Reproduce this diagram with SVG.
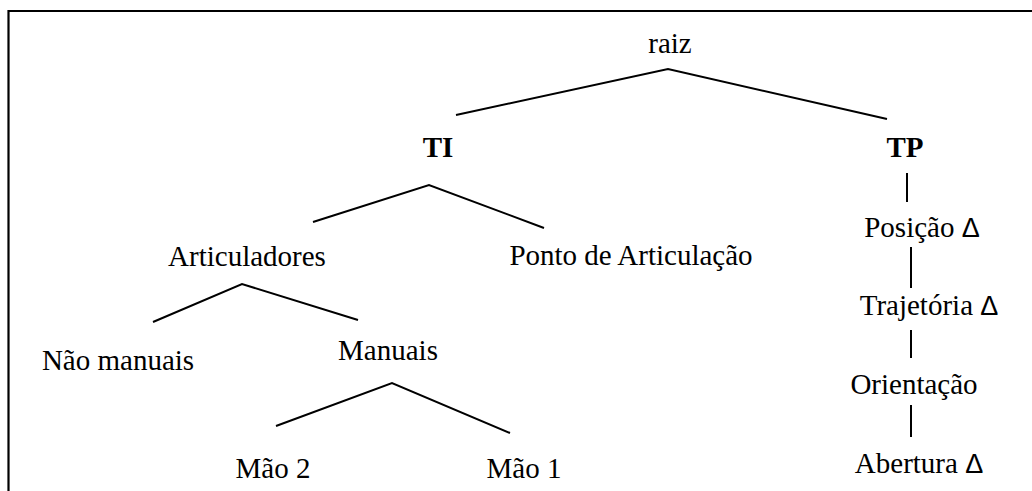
<svg xmlns="http://www.w3.org/2000/svg" width="1032" height="491" viewBox="0 0 1032 491">
<style>
text{font-family:"Liberation Serif","Times New Roman",serif;font-size:29px;fill:#000;text-anchor:middle}
.b{font-weight:bold}
.d{font-family:"Liberation Sans",Arial,sans-serif;font-size:27px}
line,polyline{stroke:#000;stroke-width:2;fill:none}
</style>
<rect width="1032" height="491" fill="#fff"/>
<polyline id="frame" points="8.5,491 8.5,11 1032,11" style="stroke-width:2.2"/>
<g id="connectors">
<polyline points="456,115 668,69 887,119"/>
<polyline points="313,222 429,185 544,228"/>
<polyline points="153,322 242,284 358,320"/>
<polyline points="276,426 392,383 510,433"/>
<line x1="907" y1="173" x2="907" y2="202"/>
<line x1="911" y1="247" x2="911" y2="288"/>
<line x1="911" y1="330" x2="911" y2="358"/>
<line x1="911" y1="405" x2="911" y2="437"/>
</g>
<g id="raiz"><text x="670" y="53">raiz</text></g>
<g id="TI"><text class="b" x="438" y="157">TI</text></g>
<g id="TP"><text class="b" x="905" y="157">TP</text></g>
<g id="articuladores"><text x="247" y="266">Articuladores</text></g>
<g id="ponto"><text x="631" y="265">Ponto de Articulação</text></g>
<g id="naomanuais"><text x="118" y="370">Não manuais</text></g>
<g id="manuais"><text x="388" y="360">Manuais</text></g>
<g id="mao2"><text x="273" y="478">Mão 2</text></g>
<g id="mao1"><text x="524" y="478">Mão 1</text></g>
<g id="posicao"><text x="922" y="237">Posição <tspan class="d">Δ</tspan></text></g>
<g id="trajetoria"><text x="929" y="315">Trajetória <tspan class="d">Δ</tspan></text></g>
<g id="orientacao"><text x="914" y="394">Orientação</text></g>
<g id="abertura"><text x="919" y="473">Abertura <tspan class="d">Δ</tspan></text></g>
</svg>
